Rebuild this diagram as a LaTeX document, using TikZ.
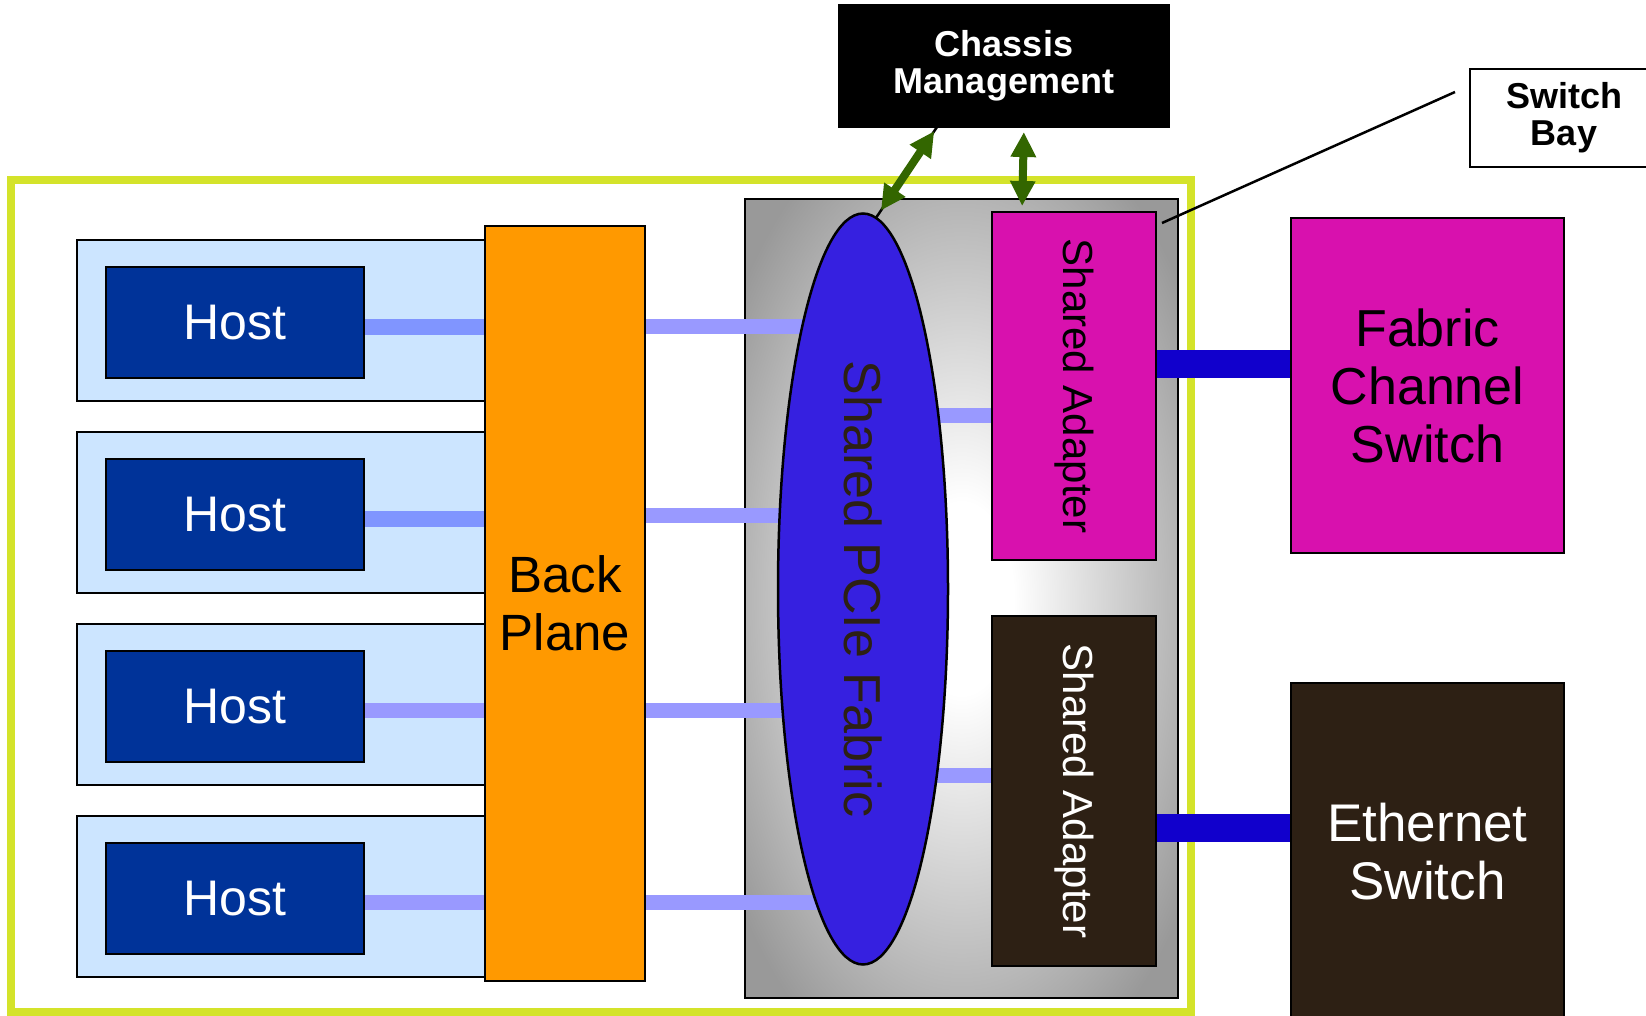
\documentclass[tikz,border=0pt]{standalone}
\usepackage{fontspec}
\setmainfont{Liberation Sans}
\usetikzlibrary{arrows.meta,shapes.geometric}

\definecolor{frameGreen}{RGB}{212,227,42}
\definecolor{bayBlue}{RGB}{204,229,255}
\definecolor{hostBlue}{RGB}{0,51,153}
\definecolor{planeOrange}{RGB}{255,153,0}
\definecolor{fabricBlue}{RGB}{54,32,224}
\definecolor{adapterMagenta}{RGB}{216,17,174}
\definecolor{darkBrown}{RGB}{45,32,20}
\definecolor{linkLight}{RGB}{153,153,255}
\definecolor{linkHost}{RGB}{128,149,255}
\definecolor{linkDark}{RGB}{17,0,204}
\definecolor{arrowGreen}{RGB}{51,102,0}
\definecolor{bayGray}{RGB}{153,153,153}

\pgfdeclareradialshading{switchbayshade}{\pgfpoint{0bp}{0bp}}{color(0bp)=(white); color(6bp)=(white); color(32bp)=(bayGray); color(75bp)=(bayGray)}

\pgfdeclarelayer{background}
\pgfdeclarelayer{links}
\pgfsetlayers{background,links,main}

\begin{document}
\begin{tikzpicture}[x=1pt, y=-1pt,
		box/.style={draw=black, line width=2.5pt, inner sep=0pt, outer sep=0pt},
		bigtext/.style={font=\fontsize{51}{58}\selectfont, align=center},
		boldtext/.style={font=\fontsize{36}{37}\selectfont\bfseries, align=center},
		sidetext/.style={font=\fontsize{42}{48}\selectfont, rotate=-90},
		hostlink/.style={linkHost, line width=16pt},
		fablink/.style={linkLight, line width=15pt},
		switchlink/.style={linkDark, line width=28pt},
		greenarrow/.style={arrowGreen, line width=8pt, <->, >={Triangle[width=24pt,length=25pt]}},
		pointer/.style={black, line width=2.5pt}]
	
	\useasboundingbox (0,0) rectangle (1646,1016);
	
	%------------------------------------------------
	% Chassis and switch bay frame
	%------------------------------------------------
	\begin{pgfonlayer}{background}
		\draw[frameGreen, line width=8pt] (11,180) rectangle (1191,1012);
		
		\node[box, line width=2pt, fill=bayBlue, minimum width=408pt, minimum height=161pt] (bay1) at (281,320.5) {};
		\node[box, line width=2pt, fill=bayBlue, minimum width=408pt, minimum height=161pt] (bay2) at (281,512.5) {};
		\node[box, line width=2pt, fill=bayBlue, minimum width=408pt, minimum height=161pt] (bay3) at (281,704.5) {};
		\node[box, line width=2pt, fill=bayBlue, minimum width=408pt, minimum height=161pt] (bay4) at (281,896.5) {};
		
		\node[box, line width=2pt, shading=switchbayshade, minimum width=433pt, minimum height=799pt] (swbay) at (961.5,598.5) {};
	\end{pgfonlayer}
	
	%------------------------------------------------
	% Hosts and back plane
	%------------------------------------------------
	\node[box, fill=hostBlue, text=white, bigtext, font=\fontsize{50}{58}\selectfont, minimum width=258pt, minimum height=111pt] (host1) at (235,322.5) {Host};
	\node[box, fill=hostBlue, text=white, bigtext, font=\fontsize{50}{58}\selectfont, minimum width=258pt, minimum height=111pt] (host2) at (235,514.5) {Host};
	\node[box, fill=hostBlue, text=white, bigtext, font=\fontsize{50}{58}\selectfont, minimum width=258pt, minimum height=111pt] (host3) at (235,706.5) {Host};
	\node[box, fill=hostBlue, text=white, bigtext, font=\fontsize{50}{58}\selectfont, minimum width=258pt, minimum height=111pt] (host4) at (235,898.5) {Host};
	
	\node[box, fill=planeOrange, bigtext, minimum width=160pt, minimum height=755pt] (bp) at (565,603.5) {Back\\Plane};
	
	%------------------------------------------------
	% Switch bay contents
	%------------------------------------------------
	\node[box, ellipse, fill=fabricBlue, minimum width=170pt, minimum height=751pt,
		label={[sidetext, font=\fontsize{52}{60}\selectfont, text=darkBrown]center:Shared PCIe Fabric}] (fab) at (863,589) {};
	
	\node[box, fill=adapterMagenta, minimum width=164pt, minimum height=348pt,
		label={[sidetext, text=black]center:Shared Adapter}] (sa1) at (1074,386) {};
	\node[box, fill=darkBrown, minimum width=164pt, minimum height=350pt,
		label={[sidetext, text=white]center:Shared Adapter}] (sa2) at (1074,791) {};
	
	%------------------------------------------------
	% External switches and management
	%------------------------------------------------
	\node[box, fill=adapterMagenta, bigtext, font=\fontsize{52}{58}\selectfont, minimum width=273pt, minimum height=335pt] (fcs) at (1427.5,385.5) {Fabric\\Channel\\Switch};
	\node[box, fill=darkBrown, text=white, bigtext, font=\fontsize{53}{58}\selectfont, minimum width=273pt, minimum height=337pt] (eth) at (1427.5,851.5) {Ethernet\\Switch};
	
	\node[box, fill=black, text=white, boldtext, minimum width=330pt, minimum height=122pt] (chassis) at (1004,66) {Chassis\\Management};
	\node[box, fill=white, boldtext, minimum width=188pt, minimum height=98pt] (sbay) at (1564,118) {Switch\\Bay};
	
	%------------------------------------------------
	% Links
	%------------------------------------------------
	\begin{pgfonlayer}{links}
		\draw[hostlink] ([yshift=-4pt]host1.east) -- ([yshift=-4pt]host1.east -| bp.west);
		\draw[hostlink] ([yshift=-4pt]host2.east) -- ([yshift=-4pt]host2.east -| bp.west);
		\draw[fablink] ([yshift=-4pt]host3.east) -- ([yshift=-4pt]host3.east -| bp.west);
		\draw[fablink] ([yshift=-4pt]host4.east) -- ([yshift=-4pt]host4.east -| bp.west);
		
		\draw[fablink] ([yshift=-4pt]host1.east -| bp.east) -- ([yshift=-4pt]host1.east -| fab.center);
		\draw[fablink] ([yshift=-1pt]host2.east -| bp.east) -- ([yshift=-1pt]host2.east -| fab.center);
		\draw[fablink] ([yshift=-4pt]host3.east -| bp.east) -- ([yshift=-4pt]host3.east -| fab.center);
		\draw[fablink] ([yshift=-4pt]host4.east -| bp.east) -- ([yshift=-4pt]host4.east -| fab.center);
		
		\draw[fablink] ([yshift=-29pt]sa1.west -| fab.center) -- ([yshift=-29pt]sa1.west);
		\draw[fablink] ([yshift=16pt]sa2.west -| fab.center) -- ([yshift=16pt]sa2.west);
		
		\draw[switchlink] ([yshift=22pt]sa1.east) -- ([yshift=22pt]sa1.east -| fcs.west);
		\draw[switchlink] ([yshift=-37pt]sa2.east) -- ([yshift=-37pt]sa2.east -| eth.west);
	\end{pgfonlayer}
	
	%------------------------------------------------
	% Management arrows and callout
	%------------------------------------------------
	\draw[pointer] (fab.88) -- ([xshift=-67pt]chassis.south);
	\draw[greenarrow, shorten <=9pt, shorten >=5pt] (fab.88) -- ([xshift=-67pt]chassis.south);
	\draw[greenarrow, shorten <=5pt, shorten >=6pt] ([xshift=20pt]chassis.south) -- ([xshift=-52pt]sa1.north);
	
	\coordinate (baytip) at (1162,223);
	\draw[pointer] ([xshift=-15pt,yshift=26pt]sbay.west) -- (baytip);
	
\end{tikzpicture}
\end{document}
